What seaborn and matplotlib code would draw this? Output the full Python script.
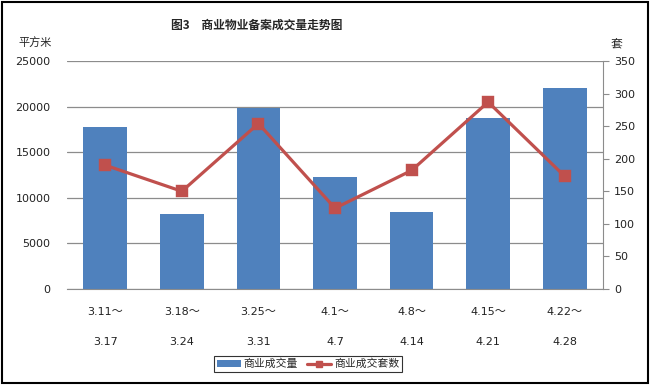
import matplotlib
matplotlib.use("Agg")
import matplotlib.pyplot as plt
from matplotlib.patches import Rectangle, Patch
from matplotlib.lines import Line2D
import seaborn as sns

# weekly periods (start ~ end)
period_start = ["3.11～", "3.18～", "3.25～", "4.1～", "4.8～", "4.15～", "4.22～"]
period_end = ["3.17", "3.24", "3.31", "4.7", "4.14", "4.21", "4.28"]

# 商业成交量 (平方米) and 商业成交套数 (套)
area = [17800, 8200, 19850, 12300, 8450, 18750, 22050]
units = [190, 150, 254, 124, 182, 287, 173]

area_ticks = [0, 5000, 10000, 15000, 20000, 25000]
unit_ticks = [0, 50, 100, 150, 200, 250, 300, 350]

bar_color = "#4F81BD"
line_color = "#C0504D"
grid_color = "#8C8C8C"

sns.set_style("white")
plt.rcParams["font.family"] = ["DejaVu Sans", "Noto Sans CJK SC"]
cjk = ["Noto Sans CJK SC", "DejaVu Sans"]

labels = [f"{s}\n{e}" for s, e in zip(period_start, period_end)]

fig = plt.figure(figsize=(6.5, 3.85), dpi=100)
ax = fig.add_axes([67 / 650, 1 - 289 / 385, (603 - 67) / 650, (289 - 61) / 385])

sns.barplot(x=labels, y=area, color=bar_color, saturation=1, width=0.57,
            edgecolor="none", linewidth=0, ax=ax, zorder=2)
ax.set_ylim(0, 25000)
ax.set_yticks(area_ticks)
ax.yaxis.grid(True, color=grid_color, linewidth=0.9, zorder=0)
ax.set_axisbelow(True)
for side in ["left", "top", "right"]:
    ax.spines[side].set_visible(False)
ax.spines["bottom"].set_color(grid_color)
ax.tick_params(axis="y", length=0, labelsize=8, pad=12, colors="#222222")
ax.tick_params(axis="x", length=0, labelsize=8, pad=13, colors="#222222")
for t in ax.get_xticklabels():
    t.set_linespacing(3.55)
    t.set_verticalalignment("top")

ax2 = ax.twinx()
sns.pointplot(x=labels, y=units, color=line_color, markers="s", markersize=6.5,
              linewidth=2.3, ax=ax2)
ax2.set_ylim(0, 350)
ax2.set_yticks(unit_ticks)
ax2.set_xlim(-0.5, len(labels) - 0.5)
ax.set_xlim(-0.5, len(labels) - 0.5)
for side in ["left", "top", "bottom"]:
    ax2.spines[side].set_visible(False)
ax2.spines["right"].set_color(grid_color)
ax2.tick_params(axis="y", length=4, color=grid_color, labelsize=8, pad=4, labelcolor="#222222")
ax.set_xlabel("")
ax.set_ylabel("")
ax2.set_ylabel("")

fig.text(257 / 650, 1 - 25 / 385, "图3　商业物业备案成交量走势图", ha="center", va="center",
         fontsize=8.5, fontweight="bold", family=cjk)
fig.text(35 / 650, 1 - 42 / 385, "平方米", ha="center", va="center", fontsize=8, family=cjk)
fig.text(616 / 650, 1 - 45 / 385, "套", ha="center", va="center", fontsize=8.5, family=cjk)

handles = [Patch(facecolor=bar_color, edgecolor="none"),
           Line2D([0], [0], color=line_color, linewidth=2.3, marker="s", markersize=5)]
leg = fig.legend(handles, ["商业成交量", "商业成交套数"], loc="center",
                 bbox_to_anchor=(308 / 650, 1 - 364 / 385), ncol=2,
                 prop={"family": cjk, "size": 7.8},
                 frameon=True, fancybox=False, edgecolor="black", handlelength=2.2,
                 handleheight=0.5, handletextpad=0.3, columnspacing=0.8, borderpad=0.25)
leg.get_frame().set_linewidth(0.8)

fig.add_artist(Rectangle((0.003, 0.005), 0.994, 0.99, transform=fig.transFigure,
                         fill=False, edgecolor="black", linewidth=1.5))

fig.savefig("out.png", dpi=100)
